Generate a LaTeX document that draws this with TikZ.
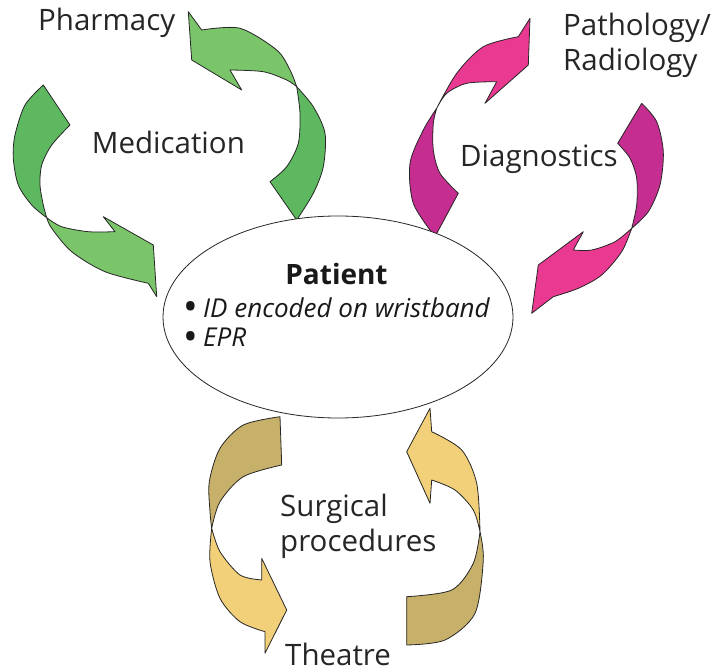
\documentclass[tikz,border=0pt]{standalone}
\usepackage{fontspec}
\setmainfont{Open Sans}
\definecolor{medback}{RGB}{93,184,96}
\definecolor{medfront}{RGB}{122,196,106}
\definecolor{diagback}{RGB}{198,45,144}
\definecolor{diagfront}{RGB}{233,57,145}
\definecolor{surgback}{RGB}{199,176,106}
\definecolor{surgfront}{RGB}{242,208,122}
\newcommand{\bigbullet}{\makebox[20pt][l]{\raisebox{-3.5pt}{\scalebox{1.5}{\textbullet}}}}
\begin{document}
\begin{tikzpicture}[x=1pt,y=-1pt,
    ribbon/.style={draw=black!85, line width=0.8pt, line join=round, fill=#1},
    sitetext/.style={font=\fontsize{29.5}{35}\selectfont, inner sep=0pt, anchor=base west, align=left, text=black!85},
    pattext/.style={font=\fontsize{26}{29.4}\selectfont, inner sep=0pt, anchor=base west, align=left, text=black!90}]

\useasboundingbox (0,0) rectangle (715,668);

% medication ribbons
\draw[ribbon=medback] (43.3,85) -- plot[smooth] coordinates {(43.3,85) (25,105) (15,135) (13.3,158.3) (18.3,185) (31.7,205) (46.7,217.7)}
  -- plot[smooth] coordinates {(46.7,217.7) (43.3,205) (40,185) (41.7,165) (51.7,145) (70,125)} -- cycle;
\draw[ribbon=medfront] (46.7,217.7) -- plot[smooth] coordinates {(46.7,217.7) (61.7,226.7) (88.3,231.7) (115,231.7)}
  -- (103.3,216.7) -- (153.3,245) -- (156.7,296.7) -- (148.3,283.3)
  -- plot[smooth] coordinates {(148.3,283.3) (105,271.7) (71.7,251.7) (51.7,228.3) (46.7,217.7)} -- cycle;
\draw[ribbon=medback] (296.7,86.7) -- plot[smooth] coordinates {(296.7,86.7) (313.3,106.7) (325,133.3) (323.3,166.7) (313.3,193.3) (296.7,220)}
  -- (270,181.7) -- plot[smooth] coordinates {(270,181.7) (286.7,166.7) (298.3,143.3) (300,113.3) (296.7,86.7)} -- cycle;
\draw[ribbon=medfront] (296.7,86.7) -- plot[smooth] coordinates {(296.7,86.7) (290,70) (276.7,50) (240,28.3) (201.7,30)}
  -- (188.3,11.7) -- (191.7,60) -- (241.7,90) -- (230,70)
  -- plot[smooth] coordinates {(230,70) (263.3,71.7) (286.7,80) (296.7,86.7)} -- cycle;

% diagnostics ribbons
\draw[ribbon=diagback] (435,236.7) -- plot[smooth] coordinates {(435,236.7) (413.3,203.3) (410,163.3) (423.3,130) (436.7,108.3)}
  -- plot[smooth] coordinates {(436.7,108.3) (433.3,123.3) (433.3,150) (440,173.3) (458.3,193.3)} -- cycle;
\draw[ribbon=diagfront] (436.7,108.3) -- plot[smooth] coordinates {(436.7,108.3) (456.7,73.3) (483.3,46.7) (518.3,36.7)}
  -- (530,18.3) -- (528.3,65) -- (485,103.3) -- (496.7,81.7)
  -- plot[smooth] coordinates {(496.7,81.7) (466.7,83.3) (446.7,93.3) (436.7,108.3)} -- cycle;
\draw[ribbon=diagback] (641.7,103.3) -- plot[smooth] coordinates {(641.7,103.3) (656.7,121.7) (663.3,151.7) (660,185) (648.3,211.7) (631.7,228.3)}
  -- plot[smooth] coordinates {(631.7,228.3) (636.7,205) (636.7,178.3) (630,158.3) (617.7,143.3)} -- cycle;
\draw[ribbon=diagfront] (631.7,228.3) -- plot[smooth] coordinates {(631.7,228.3) (621.7,251.7) (601.7,275) (578.3,288.3) (553.3,296.7)}
  -- (531.7,313.3) -- (538.3,265) -- (583.3,231.7) -- (573.3,250)
  -- plot[smooth] coordinates {(573.3,250) (591.7,250) (615,241.7) (631.7,228.3)} -- cycle;

% surgical ribbons
\draw[ribbon=surgback] (280,416.7) -- plot[smooth] coordinates {(280,416.7) (243.3,425) (220,448.3) (209.3,481.7) (210,511.7) (211.7,528.3)}
  -- plot[smooth] coordinates {(211.7,528.3) (220,501.7) (243.3,476.7) (281.7,465)} -- cycle;
\draw[ribbon=surgfront] (211.7,528.3) -- plot[smooth] coordinates {(211.7,528.3) (220,551.7) (240,575) (261.7,580)}
  -- (261.7,558.3) -- (286.7,610) -- (265,653.3) -- (265,631.7)
  -- plot[smooth] coordinates {(265,631.7) (240,621.7) (220,598.3) (210,561.7) (211.7,528.3)} -- cycle;
\draw[ribbon=surgback] (480,531.7) -- plot[smooth] coordinates {(480,531.7) (483.3,560) (475,613.3) (445,640) (406.7,645)}
  -- (406.7,596.7) -- plot[smooth] coordinates {(406.7,596.7) (451.7,590) (473.3,563.3) (480,531.7)} -- cycle;
\draw[ribbon=surgfront] (480,531.7) -- plot[smooth] coordinates {(480,531.7) (476.7,483.3) (461.7,450) (431.7,431.7)}
  -- (430,408.3) -- (406.7,451.7) -- (430,503.3) -- (431.7,480)
  -- plot[smooth] coordinates {(431.7,480) (455,490) (473.3,510) (480,531.7)} -- cycle;

% patient
\draw[line width=0.8pt, black!85, fill=white] (338,317) ellipse [x radius=175, y radius=101];
\node[pattext, anchor=base, font=\fontsize{28}{32}\selectfont\bfseries] (patient) at (336.5,285) {Patient};
\node[pattext] (record) at (183,346.7) {\bigbullet\textit{ID encoded on wristband}\\\bigbullet\textit{EPR}};

% labels
\node[sitetext] (pharmacy) at (38,31) {Pharmacy};
\node[sitetext] (medication) at (91.7,153.3) {Medication};
\node[sitetext] (pathology) at (563,71) {Pathology/\\Radiology};
\node[sitetext] (diagnostics) at (460,166.7) {Diagnostics};
\node[sitetext] (surgical) at (280,551.7) {Surgical\\procedures};
\node[sitetext] (theatre) at (285,665) {Theatre};
\end{tikzpicture}
\end{document}
